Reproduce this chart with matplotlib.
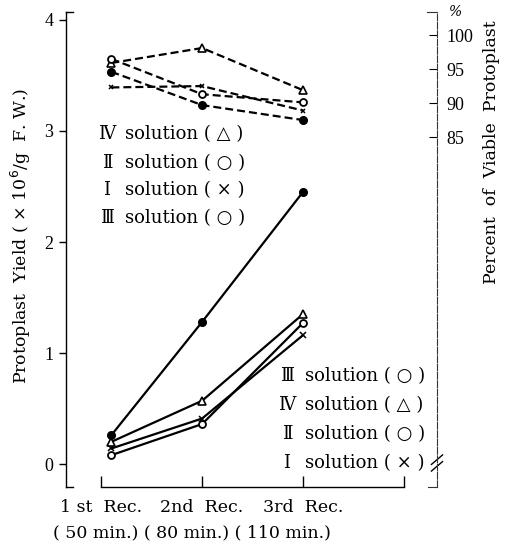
import numpy as np
import matplotlib
matplotlib.use("Agg")
import matplotlib.pyplot as plt

# recovery stages (x positions of measured points)
stages = ["1 st  Rec.", "2nd  Rec.", "3rd  Rec."]
x_pos = [1.1, 2.0, 3.0]

# protoplast yield (x10^6 / g F.W.), solid lines, left axis
yield_III = [0.26, 1.28, 2.45]
yield_IV = [0.20, 0.57, 1.35]
yield_II = [0.08, 0.36, 1.27]
yield_I = [0.14, 0.41, 1.16]

# percent of viable protoplast, dashed lines, right axis
viable_IV = [95.9, 98.1, 91.9]
viable_II = [96.5, 91.3, 90.1]
viable_I = [92.3, 92.5, 88.9]
viable_III = [94.6, 89.7, 87.5]

left_ticks = [0, 1, 2, 3, 4]
right_ticks = [85, 90, 95, 100]

W, H = 508, 541
SERIF = ["DejaVu Serif", "Noto Sans CJK JP"]
DIGITS = ["Liberation Serif", "DejaVu Serif"]


def px(x, y):
    return x / W, 1 - y / H


fig = plt.figure(figsize=(W / 100, H / 100), dpi=100)
l, t = px(66, 12)
r, b = px(437, 487)
ax = fig.add_axes([l, b, r - l, t - b])
ax.set_xlim(0.65, 4.33)
ax.set_ylim(-0.207, 4.072)

ax2 = ax.twinx()
ax2.set_ylim(33.5, 103.4)

# solid lines: yield
solid = dict(color="black", lw=1.6, ls="-")
ax.plot(x_pos, yield_I, marker="x", ms=4, mew=1.1, **solid, zorder=3)
ax.plot(x_pos, yield_II, marker="o", ms=5, mfc="white", mew=1.3, **solid, zorder=4)
ax.plot(x_pos, yield_IV, marker="^", ms=5.5, mfc="white", mew=1.2, **solid, zorder=4)
ax.plot(x_pos, yield_III, marker="o", ms=5.5, mfc="black", **solid, zorder=5)

# dashed lines: viability
dash = dict(color="black", lw=1.6, ls=(0, (3.6, 1.8)))
ax2.plot(x_pos, viable_I, marker="x", ms=3.5, mew=1.1, **dash, zorder=3)
ax2.plot(x_pos, viable_III, marker="o", ms=5.5, mfc="black", **dash, zorder=4)
ax2.plot(x_pos, viable_IV, marker="^", ms=5.5, mfc="white", mew=1.2, **dash, zorder=4)
ax2.plot(x_pos, viable_II, marker="o", ms=5, mfc="white", mew=1.3, **dash, zorder=5)

# spines
for s in ["top", "right"]:
    ax.spines[s].set_visible(False)
for s in ["top", "left", "bottom"]:
    ax2.spines[s].set_visible(False)
ax.spines["left"].set_linewidth(1.0)
ax.spines["bottom"].set_linewidth(1.0)
ax.spines["bottom"].set_bounds(1, 4)
ax2.spines["right"].set_linewidth(0.8)
ax2.spines["right"].set_linestyle((0, (6, 1.5)))
ax2.spines["right"].set_color("#333333")

ax.set_xticks([1, 2, 3, 4])
ax.set_xticklabels([])
ax.tick_params(axis="x", direction="in", length=8, width=1.0)
ax.set_yticks(left_ticks)
ax.set_yticklabels([str(v) for v in left_ticks], family=DIGITS, fontsize=13)
ax.tick_params(axis="y", direction="out", length=5, width=1.0, pad=4)
ax2.set_yticks(right_ticks)
ax2.set_yticklabels([str(v) for v in right_ticks], family=DIGITS, fontsize=13)
ax2.tick_params(axis="y", direction="in", length=6, width=0.8, pad=7)

# bracket ends of the axes
edge = dict(color="black", lw=1.0, transform=ax.transAxes, clip_on=False)
ax.plot([0, 0.02], [1, 1], **edge)
ax.plot([0, 0.02], [0, 0], **edge)
ax.plot([0.973, 1], [1, 1], color="#333333", lw=0.8, transform=ax.transAxes, clip_on=False)
ax.plot([0.975, 1], [0, 0], color="#333333", lw=0.8, transform=ax.transAxes, clip_on=False)

# axis break on the right axis
yb = (487 - 463) / 475
ax.add_patch(plt.Rectangle((0.99, yb - 0.012), 0.02, 0.024, transform=ax.transAxes,
                           color="white", clip_on=False, zorder=6))
for dy in (-0.007, 0.007):
    ax.plot([0.985, 1.015], [yb + dy - 0.01, yb + dy + 0.01], color="black", lw=1.0,
            transform=ax.transAxes, clip_on=False, zorder=7)

# x labels
for xi, lab in zip([1, 2, 3], stages):
    xd = ax.transData.transform((xi, 0))[0] / W
    fig.text(xd, px(0, 507)[1], lab, family=SERIF, fontsize=12.5, ha="center", va="center")
fig.text(*px(53, 533), "( 50 min.) ( 80 min.) ( 110 min.)", family=SERIF, fontsize=12.5,
         ha="left", va="center")

# axis titles
fig.text(*px(21, 236), "Protoplast  Yield ( × 10$^6$/g  F. W.)", family=SERIF, fontsize=12.5,
         rotation=90, ha="center", va="center")
fig.text(*px(492, 152), "Percent  of  Viable  Protoplast", family=SERIF, fontsize=12.5,
         rotation=90, ha="center", va="center")
fig.text(*px(456, 12), "%", family=SERIF, fontsize=10, style="italic", ha="center", va="center")

# in-plot legends
top_rows = [("Ⅳ", "solution ( △ )"), ("Ⅱ", "solution ( ○ )"),
            ("Ⅰ", "solution ( × )"), ("Ⅲ", "solution ( ○ )")]
bottom_rows = [("Ⅲ", "solution ( ○ )"), ("Ⅳ", "solution ( △ )"),
               ("Ⅱ", "solution ( ○ )"), ("Ⅰ", "solution ( × )")]
for (num, txt), yy in zip(top_rows, [134, 163, 190, 218]):
    fig.text(*px(107, yy), num, family=SERIF, fontsize=13, ha="center", va="center")
    fig.text(*px(125, yy), txt, family=SERIF, fontsize=13, ha="left", va="center")
for (num, txt), yy in zip(bottom_rows, [376, 405, 434, 463]):
    fig.text(*px(287, yy), num, family=SERIF, fontsize=13, ha="center", va="center")
    fig.text(*px(305, yy), txt, family=SERIF, fontsize=13, ha="left", va="center")

fig.savefig("out.png", dpi=100)
